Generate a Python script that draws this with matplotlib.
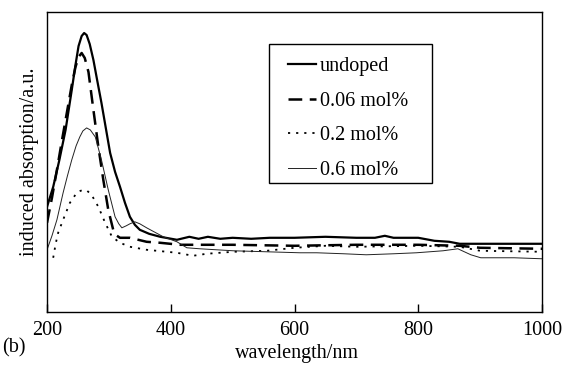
import matplotlib
matplotlib.use("Agg")
from matplotlib import pyplot as plt
from matplotlib.patches import Rectangle

plt.rcParams['font.family'] = ['Liberation Serif', 'DejaVu Serif']

# wavelength (nm) / induced absorption (a.u.)
undoped_x = [200, 210, 220, 230, 240, 246, 251, 256, 260, 264, 269, 275, 281, 288, 295, 302,
             310, 318, 326, 334, 342, 350, 365, 383, 410, 430, 445, 460, 480, 500, 530, 560,
             600, 650, 700, 730, 746, 760, 800, 826, 850, 867, 900, 950, 1000]
undoped_y = [105, 125, 152, 182, 222, 247, 266, 276, 279, 277, 268, 252, 232, 209, 184, 159,
             140, 125, 109, 95, 87, 82, 78, 75, 72, 75, 73, 75, 73, 74, 73, 74,
             74, 75, 74, 74, 76, 74, 74, 71, 70, 68, 68, 68, 68]

mol006_x = [200, 208, 216, 224, 232, 240, 246, 251, 256, 261, 267, 275, 283, 291, 299, 307,
            313, 318, 334, 361, 383, 415, 450, 500, 600, 700, 800, 867, 900, 1000]
mol006_y = [89, 114, 142, 171, 199, 227, 245, 255, 259, 254, 240, 202, 165, 132, 102, 82,
            76, 74, 74, 70, 69, 67, 67, 67, 66, 67, 67, 66, 64, 63]

mol02_x = [210, 214, 218, 226, 237, 248, 254, 259, 265, 272, 283, 294, 305, 318, 334, 361,
           410, 436, 458, 501, 555, 600, 650, 700, 800, 867, 900, 1000]
mol02_y = [54, 68, 79, 92, 109, 119, 121, 122, 121, 117, 105, 89, 75, 69, 65, 62,
           59, 56, 58, 60, 61, 64, 66, 65, 66, 65, 61, 60]

mol06_x = [200, 208, 216, 226, 233, 240, 247, 253, 258, 264, 270, 278, 288, 299, 310, 316,
           321, 328, 334, 342, 350, 361, 388, 410, 426, 447, 501, 555, 609, 636, 680, 716,
           760, 797, 840, 864, 885, 901, 955, 1000]
mol06_y = [62, 76, 92, 119, 136, 152, 166, 175, 181, 184, 182, 175, 152, 122, 95, 88,
           84, 86, 88, 90, 88, 84, 75, 70, 64, 63, 61, 60, 59, 59, 58, 57,
           58, 59, 61, 63, 57, 54, 54, 53]

xticks = [200, 400, 600, 800, 1000]


def main():
    fig = plt.figure(figsize=(5.63, 3.65), dpi=100)
    ax = fig.add_axes([0.0835, 0.146, 0.8792, 0.821])

    ax.plot(undoped_x, undoped_y, color='black', lw=1.6, label='undoped')
    ax.plot(mol006_x, mol006_y, color='black', lw=1.8, dashes=(5.5, 3), label='0.06 mol%')
    ax.plot(mol02_x, mol02_y, color='black', lw=1.3, dashes=(1.2, 3.3), label='0.2 mol%')
    ax.plot(mol06_x, mol06_y, color='#222222', lw=0.7, label='0.6 mol%')

    ax.set_xlim(200, 1000)
    ax.set_ylim(0, 300)
    ax.set_xticks(xticks)
    ax.set_yticks([])
    ax.tick_params(axis='x', direction='in', length=6, width=1, pad=7, labelsize=14.5)
    for sp in ax.spines.values():
        sp.set_linewidth(1)

    ax.set_ylabel('induced absorption/a.u.', fontsize=14.5, labelpad=6)
    fig.text(0.527, 0.005, 'wavelength/nm', ha='center', va='bottom', fontsize=14.5)
    fig.text(0.003, 0.02, '(b)', ha='left', va='bottom', fontsize=14.5)

    # legend entries without frame, box drawn separately to match its padding
    ax.legend(loc='upper left', bbox_to_anchor=(0.486, 0.85), fontsize=14.5,
              handlelength=1.4, handletextpad=0.2, labelspacing=0.77,
              borderpad=0, borderaxespad=0, frameon=False)
    ax.add_patch(Rectangle((0.4485, 0.429), 0.3295, 0.464, transform=ax.transAxes,
                           fill=False, edgecolor='black', lw=1, zorder=5))

    fig.savefig('out.png', dpi=100)


main()
